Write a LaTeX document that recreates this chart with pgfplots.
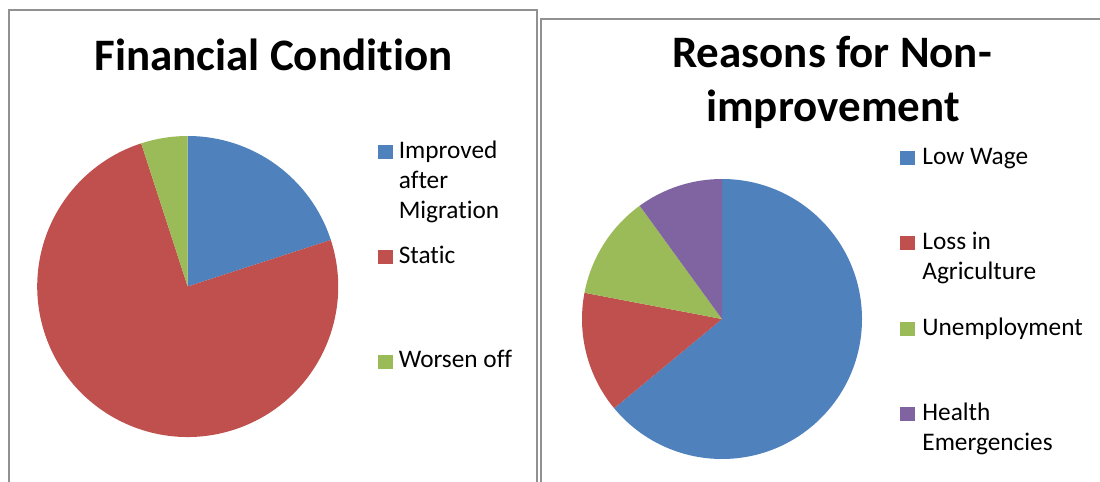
\documentclass[border=0pt]{standalone}
\usepackage{pgfplots}
\usepackage{pgfplotstable}
\usepackage{fontspec}
\pgfplotsset{compat=1.18}
\setmainfont{Carlito}[Ligatures=NoCommon]

\definecolor{pieblue}{HTML}{4F81BD}
\definecolor{piered}{HTML}{C0504D}
\definecolor{piegreen}{HTML}{9BBB59}
\definecolor{piepurple}{HTML}{8064A2}
\definecolor{frame}{RGB}{145,145,145}

% shares in percent, one row per slice, drawn clockwise from 12 o'clock
\pgfplotstableread{
share color
20 pieblue
75 piered
5  piegreen
}\financialdata

\pgfplotstableread{
share color
64 pieblue
14 piered
12 piegreen
10 piepurple
}\reasonsdata

% #1 table, #2/#3 centre (axis units), #4 radius (axis units), #5 macro that receives the slices
\newcommand\buildpie[5]{%
  \gdef#5{}%
  \gdef\pieangle{90}%
  \pgfmathsetmacro\rad{#4*0.5}%
  \pgfplotstablegetrowsof{#1}%
  \pgfmathtruncatemacro\lastrow{\pgfplotsretval-1}%
  \foreach \i in {0,...,\lastrow}{%
    \pgfplotstablegetelem{\i}{share}\of{#1}\let\share\pgfplotsretval
    \pgfplotstablegetelem{\i}{color}\of{#1}\let\col\pgfplotsretval
    \pgfmathsetmacro\newangle{\pieangle-3.6*\share}%
    \xdef#5{\unexpanded\expandafter{#5}%
      \noexpand\fill[\col] (axis cs:#2,#3) -- ++(\pieangle:\rad pt)
        arc[start angle=\pieangle, end angle=\newangle, radius=\rad pt] -- cycle;}%
    \global\let\pieangle\newangle
  }%
}

\buildpie{\financialdata}{187.7}{195.5}{150.5}\financialslices
\buildpie{\reasonsdata}{722}{163}{140}\reasonsslices

\pgfplotsset{
  swatch/.style={legend image code/.code={\fill[##1] (0pt,0pt) rectangle (7pt,6.5pt);}},
  canvas/.style={
    x=0.5pt, y=0.5pt, xmin=0, xmax=1100, ymin=0, ymax=482,
    scale only axis, hide axis, clip=false,
    at={(0,0)}, anchor=south west,
  },
}
\newcommand\leftentry[1]{\parbox[t][52.5pt][t]{64pt}{\fontsize{12.65}{15}\selectfont\raggedright\rule{0pt}{10pt}#1}}
\newcommand\rightentry[1]{\parbox[t][42.75pt][t]{84pt}{\fontsize{12.65}{15}\selectfont\raggedright\rule{0pt}{10pt}#1}}

\begin{document}
\begin{tikzpicture}
% ---- Financial Condition ----
\begin{axis}[canvas,
  legend style={at={(378/1100,344/482)}, anchor=north west, draw=none, fill=none,
    inner sep=0pt, outer sep=0pt, row sep=0pt, column sep=3pt,
    nodes={inner sep=0pt, text depth={}}, cells={anchor=base west}},
]
\draw[frame, line width=1pt] (axis cs:9,-4) -- (axis cs:9,472) -- (axis cs:537,472) -- (axis cs:537,-4);
\financialslices
\node[anchor=base, font=\fontsize{22.5}{27.5}\selectfont\bfseries] at (axis cs:273.5,411) {Financial Condition};
\addlegendimage{pieblue, swatch}\addlegendentry{\leftentry{Improved after Migration}}
\addlegendimage{piered, swatch}\addlegendentry{\leftentry{Static}}
\addlegendimage{piegreen, swatch}\addlegendentry{\leftentry{Worsen off}}
\end{axis}
% ---- Reasons for Non-improvement ----
\begin{axis}[canvas,
  legend style={at={(900/1100,338/482)}, anchor=north west, draw=none, fill=none,
    inner sep=0pt, outer sep=0pt, row sep=0pt, column sep=3.8pt,
    nodes={inner sep=0pt, text depth={}}, cells={anchor=base west}},
]
\draw[frame, line width=1pt] (axis cs:541,-4) -- (axis cs:541,463) -- (axis cs:1104,463);
\reasonsslices
\node[anchor=base, font=\fontsize{22.5}{27.5}\selectfont\bfseries] at (axis cs:832,414) {Reasons for Non-};
\node[anchor=base, font=\fontsize{22.5}{27.5}\selectfont\bfseries] at (axis cs:833,360) {improvement};
\addlegendimage{pieblue, swatch}\addlegendentry{\rightentry{Low Wage}}
\addlegendimage{piered, swatch}\addlegendentry{\rightentry{Loss in Agriculture}}
\addlegendimage{piegreen, swatch}\addlegendentry{\rightentry{Unemployment}}
\addlegendimage{piepurple, swatch}\addlegendentry{\rightentry{Health Emergencies}}
\end{axis}
\pgfresetboundingbox
\path[use as bounding box] (0,0) rectangle (550pt,241pt);
\end{tikzpicture}
\end{document}
